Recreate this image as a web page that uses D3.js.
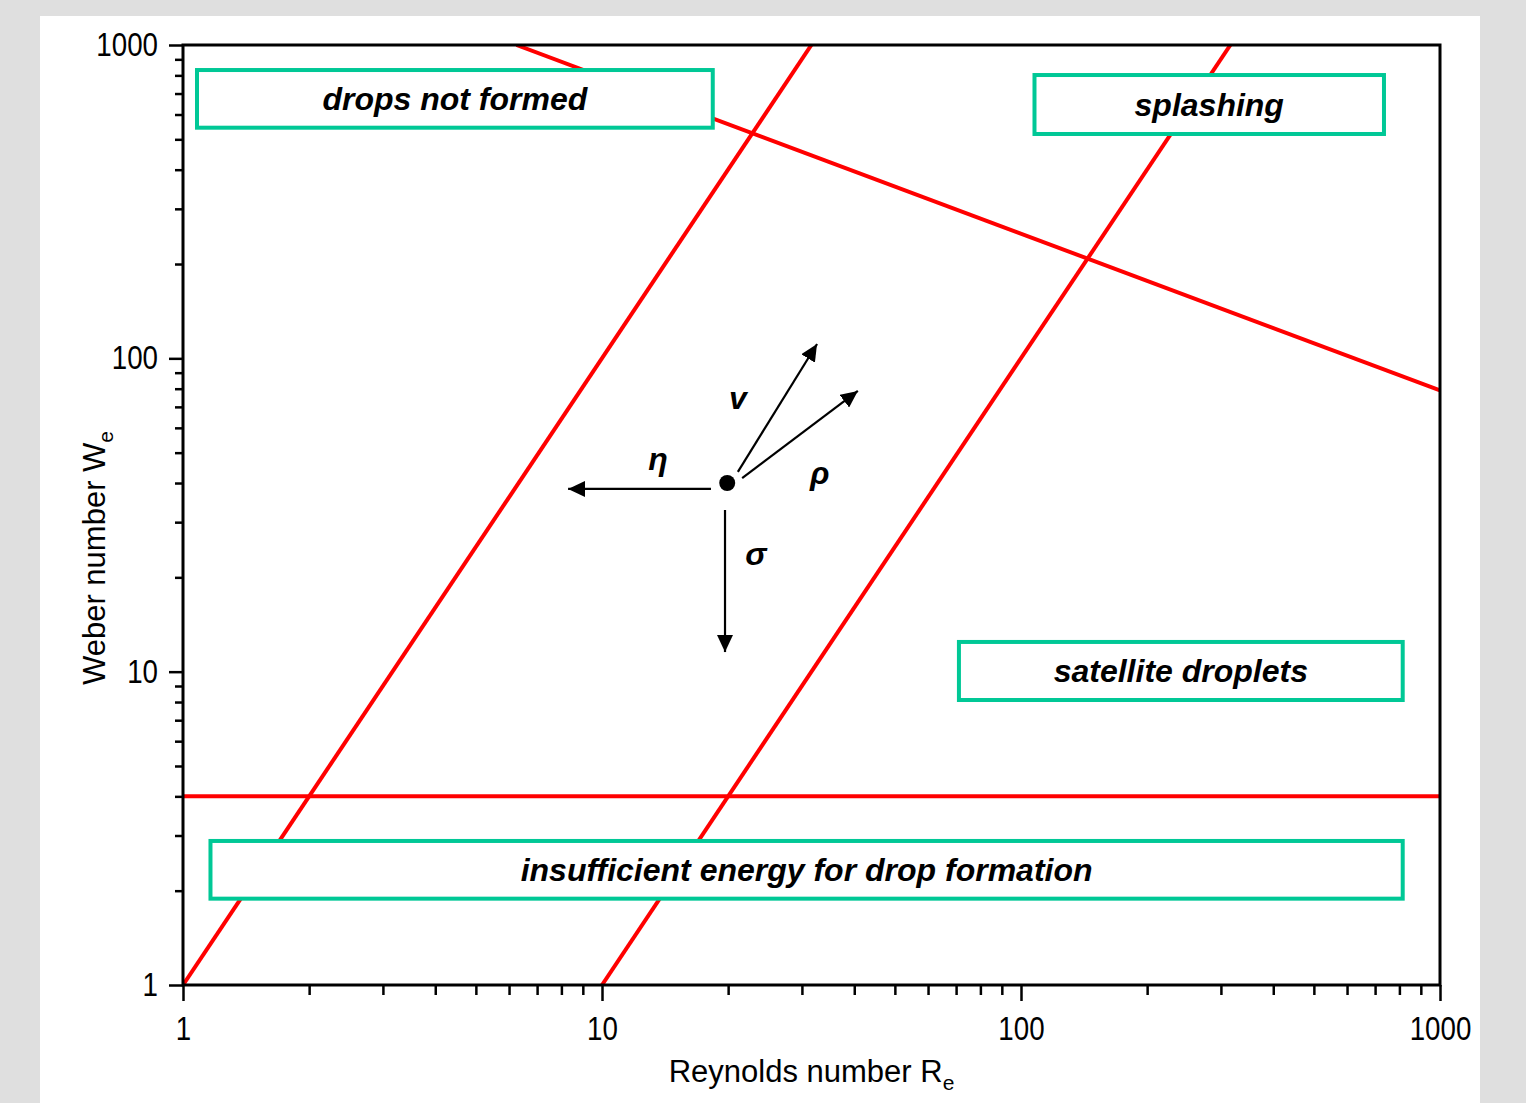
<!DOCTYPE html>
<html>
<head>
<meta charset="utf-8">
<script src="https://cdn.jsdelivr.net/npm/d3@7"></script>
<style>
  html, body { margin: 0; padding: 0; background: #dfdfdf; }
  svg { display: block; }
</style>
</head>
<body>
<svg id="chart" width="1526" height="1103"></svg>
<script>
// ---------- data ----------
const xTickValues = [1, 10, 100, 1000];
const yTickValues = [1, 10, 100, 1000];
const xTickLabels = ["1", "10", "100", "1000"];
const yTickLabels = ["1", "10", "100", "1000"];

// regime boundary lines (Re, We endpoints)
const lineOh1Re = [1, 31.6];      const lineOh1We = [1, 1000];
const lineOh01Re = [10, 316];     const lineOh01We = [1, 1000];
const lineWe4Re = [1, 1000];      const lineWe4We = [4, 4];
const lineSplashRe = [6.25, 1000]; const lineSplashWe = [1000, 79];

// labelled regions: [Re0, Re1, We0 (top), We1 (bottom)]
const regionNames = ["drops not formed", "splashing", "satellite droplets", "insufficient energy for drop formation"];
const regionRe0 = [1.08, 107.7, 71.1, 1.163];
const regionRe1 = [18.38, 735, 814.7, 814.7];
const regionWeTop = [832, 802, 12.44, 2.882];
const regionWeBot = [544.6, 520, 8.12, 1.886];

// property arrows
const dotRe = 19.9, dotWe = 40.0;
const arrowNames = ["η", "v", "ρ", "σ"];
const arrowStartRe = [18.2, 21.1, 21.6, 19.66];
const arrowStartWe = [38.3, 43.4, 41.5, 32.8];
const arrowEndRe = [8.30, 32.6, 40.8, 19.66];
const arrowEndWe = [38.3, 111.1, 78.7, 11.55];
const arrowLabelRe = [13.6, 21.1, 33.1, 23.3];
const arrowLabelWe = [47.7, 74.7, 43.1, 23.7];

// ---------- layout ----------
const svg = d3.select("#chart");
const L = 183, R = 1440, T = 45, B = 985;
const x = d3.scaleLog().domain([1, 1000]).range([L, R]);
const y = d3.scaleLog().domain([1, 1000]).range([B, T]);

svg.append("rect").attr("x", 40).attr("y", 16).attr("width", 1440).attr("height", 1087).attr("fill", "#ffffff");

// minor ticks
function minors() {
  const out = [];
  for (let d = 1; d < 1000; d *= 10) for (let k = 2; k <= 9; k++) out.push(d * k);
  return out;
}
const minorVals = minors();

const tickFont = "'Liberation Sans', Arial, sans-serif";

const gx = svg.append("g").attr("transform", `translate(0,${B})`);
gx.call(d3.axisBottom(x).tickValues(minorVals).tickSize(10).tickFormat(""));
gx.select(".domain").remove();
const gx2 = svg.append("g").attr("transform", `translate(0,${B})`);
gx2.call(d3.axisBottom(x).tickValues(xTickValues).tickSize(16).tickPadding(16)
  .tickFormat((d, i) => xTickLabels[i]));
gx2.select(".domain").remove();

const gy = svg.append("g").attr("transform", `translate(${L},0)`);
gy.call(d3.axisLeft(y).tickValues(minorVals).tickSize(8).tickFormat(""));
gy.select(".domain").remove();
const gy2 = svg.append("g").attr("transform", `translate(${L},0)`);
gy2.call(d3.axisLeft(y).tickValues(yTickValues).tickSize(14).tickPadding(11)
  .tickFormat((d, i) => yTickLabels[i]));
gy2.select(".domain").remove();

svg.selectAll(".tick line").attr("stroke", "#000").attr("stroke-width", 2.5);
svg.selectAll(".tick text").attr("fill", "#000").style("font-family", tickFont).style("font-size", "33px")
  .each(function () {
    const w = this.getComputedTextLength();
    d3.select(this).attr("textLength", w * 0.84).attr("lengthAdjust", "spacingAndGlyphs");
  });

// clip
svg.append("clipPath").attr("id", "clip").append("rect")
  .attr("x", L).attr("y", T).attr("width", R - L).attr("height", B - T);

const lineGen = d3.line().x(d => x(d[0])).y(d => y(d[1]));
const lines = [
  [lineOh1Re, lineOh1We], [lineOh01Re, lineOh01We], [lineWe4Re, lineWe4We], [lineSplashRe, lineSplashWe]
];
const gLines = svg.append("g").attr("clip-path", "url(#clip)");
lines.forEach(([res, wes]) => {
  gLines.append("path").datum(res.map((r, i) => [r, wes[i]]))
    .attr("d", lineGen).attr("fill", "none").attr("stroke", "#ff0000").attr("stroke-width", 4);
});

// frame
svg.append("rect").attr("x", L).attr("y", T).attr("width", R - L).attr("height", B - T)
  .attr("fill", "none").attr("stroke", "#000").attr("stroke-width", 3);

// regions
const labelFont = "'Liberation Sans', Arial, sans-serif";
regionNames.forEach((name, i) => {
  const x0 = x(regionRe0[i]), x1 = x(regionRe1[i]);
  const y0 = y(regionWeTop[i]), y1 = y(regionWeBot[i]);
  svg.append("rect").attr("x", x0).attr("y", y0).attr("width", x1 - x0).attr("height", y1 - y0)
    .attr("fill", "#ffffff").attr("stroke", "#00c896").attr("stroke-width", 4);
  svg.append("text").attr("x", (x0 + x1) / 2).attr("y", (y0 + y1) / 2)
    .attr("text-anchor", "middle").attr("dominant-baseline", "central")
    .style("font-family", labelFont).style("font-size", "32px")
    .style("font-weight", "bold").style("font-style", "italic").attr("fill", "#000")
    .text(name);
});

// arrows
const defs = svg.append("defs");
defs.append("marker").attr("id", "ah").attr("markerUnits", "userSpaceOnUse")
  .attr("markerWidth", 18).attr("markerHeight", 16).attr("refX", 17).attr("refY", 8)
  .attr("orient", "auto")
  .append("path").attr("d", "M0,0 L17,8 L0,16 Z").attr("fill", "#000");

arrowNames.forEach((nm, i) => {
  svg.append("line")
    .attr("x1", x(arrowStartRe[i])).attr("y1", y(arrowStartWe[i]))
    .attr("x2", x(arrowEndRe[i])).attr("y2", y(arrowEndWe[i]))
    .attr("stroke", "#000").attr("stroke-width", 2.2).attr("marker-end", "url(#ah)");
  svg.append("text").attr("x", x(arrowLabelRe[i])).attr("y", y(arrowLabelWe[i]))
    .attr("text-anchor", "middle").attr("dominant-baseline", "central")
    .style("font-family", labelFont).style("font-size", "32px")
    .style("font-weight", "bold").style("font-style", "italic").attr("fill", "#000")
    .text(nm);
});
svg.append("circle").attr("cx", x(dotRe)).attr("cy", y(dotWe)).attr("r", 8).attr("fill", "#000");

// axis titles
const titleFont = "'Liberation Sans', Arial, sans-serif";
const xt = svg.append("text").attr("x", (L + R) / 2).attr("y", 1082).attr("text-anchor", "middle")
  .style("font-family", titleFont).style("font-size", "31px").attr("fill", "#000");
xt.append("tspan").text("Reynolds number R");
xt.append("tspan").attr("dy", 8).style("font-size", "21px").text("e");

const yt = svg.append("text").attr("transform", "translate(105,558) rotate(-90)").attr("text-anchor", "middle")
  .style("font-family", titleFont).style("font-size", "31px").attr("fill", "#000");
yt.append("tspan").text("Weber number W");
yt.append("tspan").attr("dy", 8).style("font-size", "21px").text("e");
</script>
</body>
</html>
